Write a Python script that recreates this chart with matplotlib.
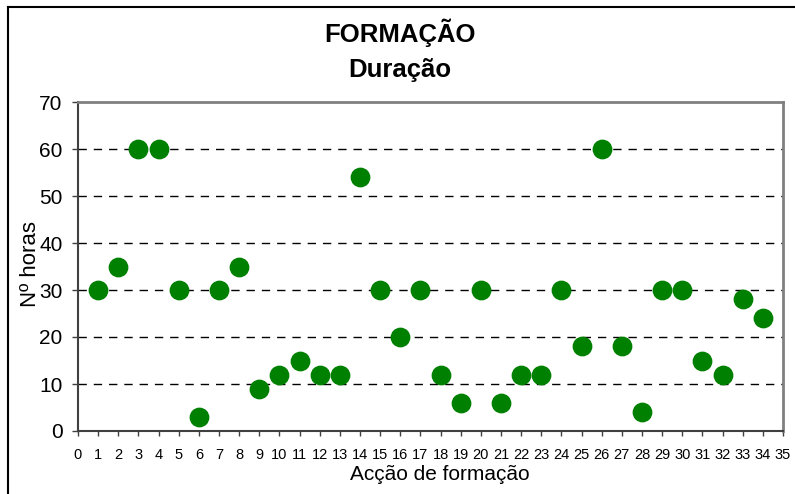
import matplotlib
matplotlib.use("Agg")
import matplotlib.pyplot as plt
from matplotlib.lines import Line2D

acoes = list(range(1, 35))
horas = [30, 35, 60, 60, 30, 3, 30, 35, 9, 12, 15, 12, 12, 54, 30, 20, 30, 12, 6, 30,
         6, 12, 12, 30, 18, 60, 18, 4, 30, 30, 15, 12, 28, 24]
x_ticks = list(range(0, 36))
y_ticks = list(range(0, 80, 10))

plt.rcParams['font.family'] = ['Liberation Sans', 'DejaVu Sans']

fig = plt.figure(figsize=(7.95, 4.94), dpi=100)
ax = fig.add_axes([78/795, 1-431/494, (783-78)/795, (431-102)/494])

for y in y_ticks[1:-1]:
    ax.axhline(y, color='black', lw=1, ls=(0, (6, 5)), zorder=1)

ax.scatter(acoes, horas, s=175, color='#008000', edgecolors='#008000', zorder=3)

ax.set_xlim(0, 35)
ax.set_ylim(0, 70)
ax.set_xticks(x_ticks)
ax.set_yticks(y_ticks)
ax.set_xticklabels([str(v) for v in x_ticks], fontsize=10.5)
ax.set_yticklabels([str(v) for v in y_ticks], fontsize=15)
ax.tick_params(axis='x', direction='out', length=3.5, width=1, color='#404040', pad=9)
ax.tick_params(axis='y', direction='out', length=4.5, width=1, color='#404040', pad=6.5)

for side in ['top', 'right']:
    ax.spines[side].set_color('#808080')
    ax.spines[side].set_linewidth(2)
ax.spines['left'].set_color('#404040')
ax.spines['left'].set_linewidth(1.5)
ax.spines['bottom'].set_color('#404040')
ax.spines['bottom'].set_linewidth(1.5)

ax.set_xlabel('Acção de formação', fontsize=15)
ax.xaxis.label.set_va('center')
ax.xaxis.set_label_coords((440 - 78) / 705, (431 - 475) / 329)
ax.set_ylabel('Nº horas', fontsize=16)
ax.yaxis.label.set_va('center')
ax.yaxis.set_label_coords((30 - 78) / 705, (431 - 264) / 329)

fig.text(400/795, 1-33/494, 'FORMAÇÃO', ha='center', va='center',
         fontsize=18.5, fontweight='bold')
fig.text(400/795, 1-70/494, 'Duração', ha='center', va='center',
         fontsize=18.5, fontweight='bold')

# outer chart border
fig.add_artist(Line2D([8/795, 1.0], [1-7/494, 1-7/494], color='black', lw=1.5,
                      transform=fig.transFigure))
fig.add_artist(Line2D([8/795, 8/795], [1-7/494, 0.0], color='black', lw=1.5,
                      transform=fig.transFigure))

fig.savefig('out.png', dpi=100)
